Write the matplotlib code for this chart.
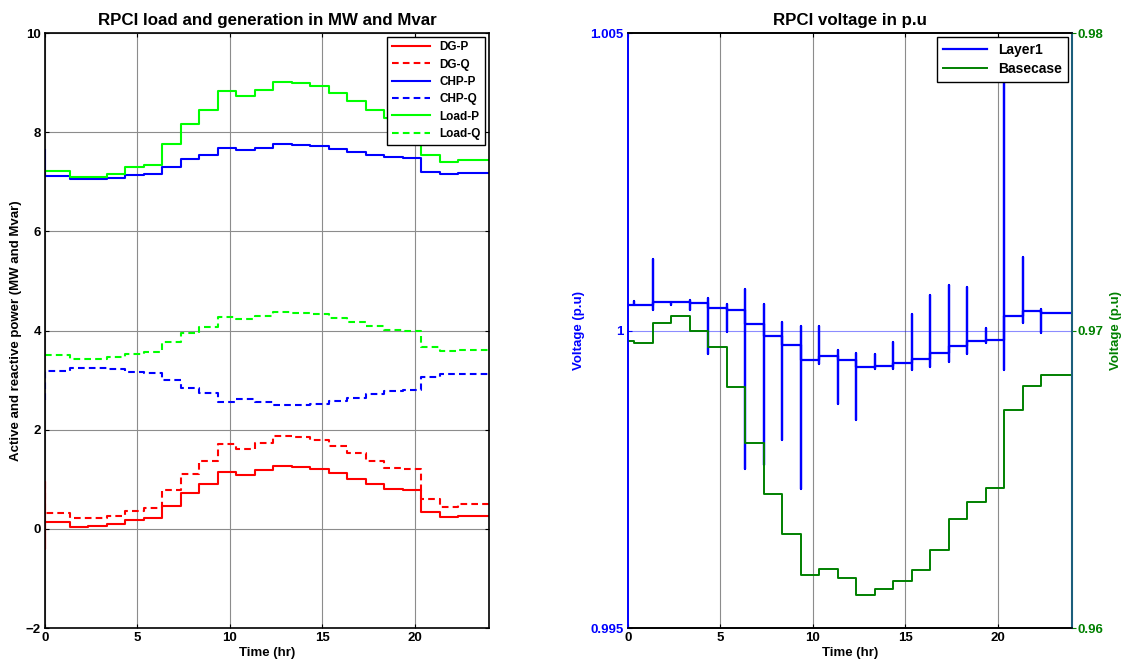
import numpy as np
import matplotlib
matplotlib.use("Agg")
import matplotlib.pyplot as plt

plt.rcParams["font.family"] = ["Liberation Sans", "DejaVu Sans"]
plt.rcParams["font.weight"] = "bold"

# ─── data: levels hold between step times (hours) ───
step_times = [0] + [k + 1 / 3 for k in range(23)] + [24]

dg_p = [0.13, 0.13, 0.04, 0.06, 0.09, 0.17, 0.21, 0.46, 0.73, 0.91, 1.15, 1.09,
        1.18, 1.27, 1.25, 1.20, 1.13, 1.01, 0.91, 0.80, 0.78, 0.34, 0.24, 0.26]
dg_q = [0.33, 0.33, 0.21, 0.21, 0.26, 0.37, 0.43, 0.78, 1.11, 1.36, 1.71, 1.62,
        1.74, 1.88, 1.86, 1.79, 1.68, 1.54, 1.36, 1.22, 1.20, 0.60, 0.45, 0.50]
chp_p = [7.11, 7.11, 7.06, 7.06, 7.08, 7.13, 7.15, 7.30, 7.45, 7.54, 7.68, 7.65,
         7.69, 7.76, 7.74, 7.72, 7.67, 7.61, 7.54, 7.50, 7.48, 7.20, 7.16, 7.17]
chp_q = [3.18, 3.18, 3.24, 3.24, 3.22, 3.17, 3.15, 3.00, 2.84, 2.74, 2.56, 2.62,
         2.56, 2.49, 2.50, 2.52, 2.58, 2.64, 2.72, 2.79, 2.80, 3.06, 3.13, 3.12]
load_p = [7.21, 7.21, 7.10, 7.10, 7.15, 7.29, 7.34, 7.77, 8.16, 8.45, 8.83, 8.74,
          8.86, 9.02, 8.99, 8.93, 8.79, 8.62, 8.45, 8.28, 8.24, 7.55, 7.39, 7.44]
load_q = [3.50, 3.50, 3.43, 3.43, 3.47, 3.53, 3.56, 3.76, 3.95, 4.08, 4.27, 4.23,
          4.29, 4.37, 4.35, 4.33, 4.25, 4.18, 4.10, 4.01, 3.99, 3.66, 3.58, 3.60]

# transient values at t = 0
dg_p_start = [0.95, -0.4]
dg_q_start = [0.95]
chp_p_start = [7.64]
chp_q_start = [2.6]
load_p_start = []
load_q_start = []

layer1 = [1.000425, 1.000425, 1.00048, 1.00048, 1.00046, 1.000386, 1.000353, 1.000118,
          0.99991, 0.99975, 0.9995, 0.99957, 0.9995, 0.99939, 0.9994, 0.99946,
          0.99952, 0.99963, 0.99974, 0.99983, 0.99984, 1.000245, 1.000324, 1.000296]
# spikes at every switching instant (step_times[1:-1])
spike_hi = [1.00049, 1.00121, 1.00048, 1.00052, 1.00055, 1.00044, 1.00069, 1.00044,
            1.00014, 1.00007, 1.00008, 0.99968, 0.99963, 0.99961, 0.99981, 1.00027,
            1.00059, 1.00076, 1.00074, 1.00005, 1.00418, 1.00123, 1.00037]
spike_lo = [1.000425, 1.00034, 1.00043, 1.00034, 0.9996, 0.99998, 0.99768, 0.99774,
            0.99816, 0.99733, 0.99943, 0.99877, 0.9985, 0.99936, 0.99936, 0.99934,
            0.99939, 0.99947, 0.99961, 0.99979, 0.99933, 1.00012, 0.99996]
basecase = [0.96966, 0.96957, 0.97025, 0.9705, 0.9700, 0.96945, 0.96809, 0.96623,
            0.96451, 0.96315, 0.96177, 0.96198, 0.96169, 0.9611, 0.9613, 0.96159,
            0.96195, 0.96262, 0.96366, 0.96424, 0.9647, 0.96734, 0.96814, 0.96849]

x_ticks = [0, 5, 10, 15, 20]
p_ticks = [-2, 0, 2, 4, 6, 8, 10]
v_ticks = [0.995, 1.0, 1.005]
v_ticklabels = ["0.995", "1", "1.005"]
vb_ticks = [0.96, 0.97, 0.98]
vb_ticklabels = ["0.96", "0.97", "0.98"]

RED, BLUE, LGREEN, DGREEN = "#ff0000", "#0000ff", "#00ff00", "#008000"
DASH = (3.2, 2.0)
TICK_FS = 9.5


def step_xy(levels, start=()):
    # post-step path, with optional transient points at t = 0
    xs = [0] * len(start)
    ys = list(start)
    for i, lv in enumerate(levels):
        xs += [step_times[i], step_times[i + 1]]
        ys += [lv, lv]
    return xs, ys


def spike_xy(levels, hi, lo):
    xs, ys = [], []
    for i, lv in enumerate(levels):
        xs += [step_times[i], step_times[i + 1]]
        ys += [lv, lv]
        if i < len(hi):
            t = step_times[i + 1]
            xs += [t, t, t]
            ys += [hi[i], lo[i], lv]
    return xs, ys


fig = plt.figure(figsize=(11.22, 6.65), dpi=100)

# ─── left: load and generation ───
ax = fig.add_axes([0.0401, 0.0556, 0.3957, 0.8947])
series = [
    ("DG-P", dg_p, dg_p_start, RED, "-"),
    ("DG-Q", dg_q, dg_q_start, RED, "--"),
    ("CHP-P", chp_p, chp_p_start, BLUE, "-"),
    ("CHP-Q", chp_q, chp_q_start, BLUE, "--"),
    ("Load-P", load_p, load_p_start, LGREEN, "-"),
    ("Load-Q", load_q, load_q_start, LGREEN, "--"),
]
for name, lv, st, col, ls in series:
    xs, ys = step_xy(lv, st)
    ln, = ax.plot(xs, ys, color=col, lw=1.5, label=name)
    if ls == "--":
        ln.set_dashes(DASH)

ax.set_xlim(0, 24)
ax.set_ylim(-2, 10)
ax.set_xticks(x_ticks)
ax.set_yticks(p_ticks)
ax.tick_params(direction="in", length=3, labelsize=TICK_FS, top=True, right=True, pad=3)
ax.grid(True, color="#8c8c8c", lw=0.8)
for s in ax.spines.values():
    s.set_linewidth(1.2)
ax.set_title("RPCI load and generation in MW and Mvar", fontsize=12.2, fontweight="bold", pad=6)
ax.set_xlabel("Time (hr)", fontsize=9.5, fontweight="bold", labelpad=2)
ax.set_ylabel("Active and reactive power (MW and Mvar)", fontsize=9.5, fontweight="bold", labelpad=3)
leg = ax.legend(loc="upper right", handlelength=3.2, fancybox=False,
                edgecolor="black", framealpha=1, borderaxespad=0.3, labelspacing=0.45,
                borderpad=0.4, prop={"weight": "bold", "size": 8.5})
leg.get_frame().set_linewidth(1.0)

# ─── right: voltage ───
ax1 = fig.add_axes([0.5597, 0.0556, 0.3957, 0.8947])
ax2 = ax1.twinx()

xs, ys = spike_xy(layer1, spike_hi, spike_lo)
h1, = ax1.plot(xs, ys, color=BLUE, lw=1.6, label="Layer1")
ax1.axhline(1.0, color=BLUE, lw=0.8, alpha=0.45)
for t in x_ticks[1:]:
    ax1.axvline(t, color="#8c8c8c", lw=0.8, zorder=0)

xs, ys = step_xy(basecase)
h2, = ax2.plot(xs, ys, color=DGREEN, lw=1.4, label="Basecase")

ax1.set_xlim(0, 24)
ax1.set_ylim(0.995, 1.005)
ax1.set_xticks(x_ticks)
ax1.set_yticks(v_ticks)
ax1.set_yticklabels(v_ticklabels)
ax1.tick_params(axis="x", direction="in", length=3, labelsize=TICK_FS, top=True, pad=3)
ax1.tick_params(axis="y", direction="in", length=3, labelsize=TICK_FS, colors=BLUE, pad=3)
ax2.set_ylim(0.96, 0.98)
ax2.set_yticks(vb_ticks)
ax2.set_yticklabels(vb_ticklabels)
ax2.tick_params(axis="y", direction="out", length=3, labelsize=TICK_FS, colors=DGREEN, pad=1)

for a in (ax1, ax2):
    for s in a.spines.values():
        s.set_linewidth(1.2)
ax2.spines["left"].set_color(BLUE)
ax1.spines["left"].set_color(BLUE)
ax2.spines["right"].set_color("#1b5e7b")
ax2.spines["right"].set_linewidth(1.5)

ax1.set_title("RPCI voltage in p.u", fontsize=12.2, fontweight="bold", pad=6)
ax1.set_xlabel("Time (hr)", fontsize=9.5, fontweight="bold", labelpad=2)
ax1.set_ylabel("Voltage (p.u)", fontsize=9.5, fontweight="bold", color=BLUE, labelpad=4)
ax2.set_ylabel("Voltage (p.u)", fontsize=9.5, fontweight="bold", color=DGREEN, labelpad=5)

leg2 = ax2.legend(handles=[h1, h2], loc="upper right", handlelength=3.2, fancybox=False,
                  edgecolor="black", framealpha=1, borderaxespad=0.3, labelspacing=0.4,
                  borderpad=0.4, prop={"weight": "bold", "size": 10})
leg2.get_frame().set_linewidth(1.0)

fig.savefig("out.png", dpi=100)
